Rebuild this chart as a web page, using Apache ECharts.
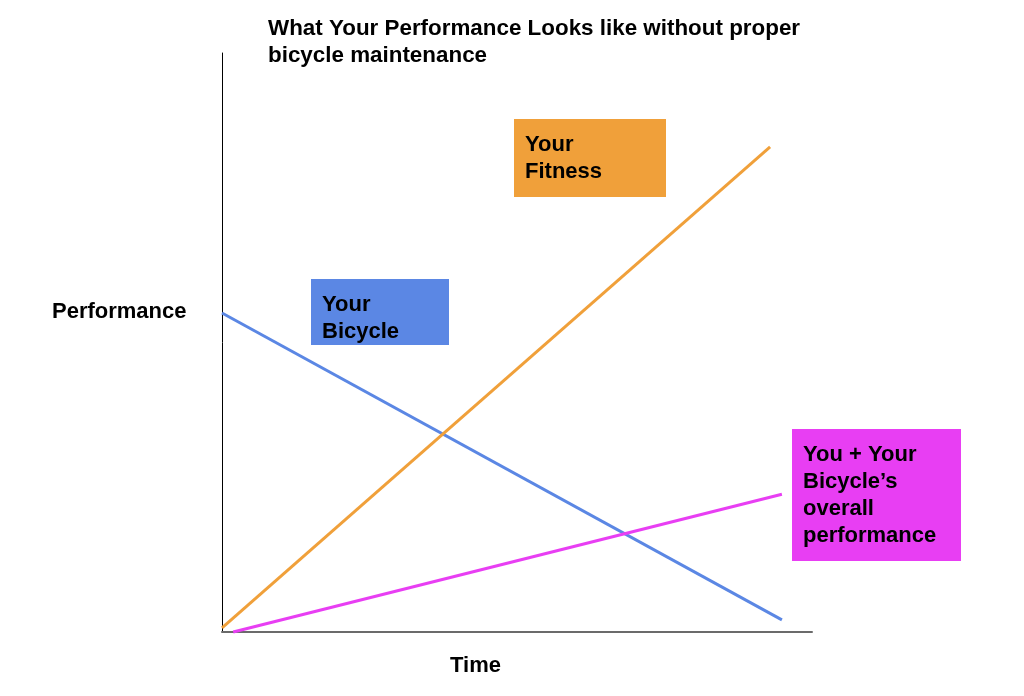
<!DOCTYPE html>
<html lang="en">
<head>
  <meta charset="UTF-8" />
  <title>Performance</title>
  <script src="https://cdn.jsdelivr.net/npm/echarts@6.0.0/dist/echarts.min.js"></script>
  <style>
    html, body { margin: 0; padding: 0; background: #fff; }
  </style>
</head>
<body>
  <div id="main" style="width: 1024px; height: 696px;"></div>
  <script type="text/javascript">
    // data (time 0-100, performance 0-100)
    let fitness = [[0, 0.7], [92.9, 83.8]];
    let bicycle = [[0, 55.1], [94.9, 2.1]];
    let overall = [[1.9, 0], [94.9, 23.8]];

    let titleText = 'What Your Performance Looks like without proper\nbicycle maintenance';
    let font = 'bold 22px "Liberation Sans", Arial, sans-serif';

    let orange = '#F0A03A';
    let blue = '#5B87E4';
    let magenta = '#E83EF3';

    var myChart = echarts.init(document.getElementById('main'));

    function box(x, y, w, h, color, text) {
      return [
        { type: 'rect', shape: { x: x, y: y, width: w, height: h }, style: { fill: color } },
        { type: 'text', x: x + 11, y: y + 12.5,
          style: { text: text, font: font, fill: '#000', lineHeight: 27, verticalAlign: 'top' } }
      ];
    }

    function line(name, data, color) {
      return {
        name: name,
        type: 'line',
        data: data,
        symbol: 'none',
        clip: false,
        lineStyle: { color: color, width: 3 }
      };
    }

    myChart.setOption({
      animation: false,
      title: {
        text: titleText,
        left: 268,
        top: 15,
        padding: 0,
        textStyle: { fontSize: 22.4, fontWeight: 'bold', color: '#000', lineHeight: 27,
          fontFamily: '"Liberation Sans", Arial, sans-serif' }
      },
      grid: { left: 222, right: 212, top: 53, bottom: 64 },
      xAxis: {
        type: 'value', min: 0, max: 100,
        axisLine: { show: true, lineStyle: { color: '#6b6b6b', width: 2 } },
        axisTick: { show: false }, axisLabel: { show: false }, splitLine: { show: false }
      },
      yAxis: {
        type: 'value', min: 0, max: 100,
        axisLine: { show: true, lineStyle: { color: '#000', width: 1 } },
        axisTick: { show: false }, axisLabel: { show: false }, splitLine: { show: false }
      },
      graphic: [].concat(
        box(514, 119, 152, 78, orange, 'Your\nFitness'),
        box(311, 279, 138, 66, blue, 'Your\nBicycle'),
        box(792, 429, 169, 132, magenta, 'You + Your\nBicycle\u2019s\noverall\nperformance'),
        [
          { type: 'text', x: 52, y: 312, style: { text: 'Performance', font: font, fill: '#000', verticalAlign: 'middle' } },
          { type: 'text', x: 450, y: 666, style: { text: 'Time', font: font, fill: '#000', verticalAlign: 'middle' } }
        ]
      ),
      series: [
        line('Your Bicycle', bicycle, blue),
        line('Your Fitness', fitness, orange),
        line('Overall', overall, magenta)
      ]
    });
  </script>
</body>
</html>
